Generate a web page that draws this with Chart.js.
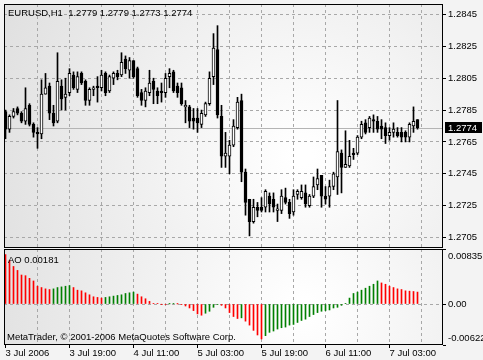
<!DOCTYPE html>
<html>
<head>
<meta charset="utf-8">
<title>EURUSD,H1</title>
<script src="https://cdn.jsdelivr.net/npm/chart.js@4.4.0/dist/chart.umd.min.js"></script>
<style>
  html, body { margin: 0; padding: 0; background: #f3f3f3; }
  #wrap { position: relative; width: 483px; height: 360px; overflow: hidden; }
  #priceChart { position: absolute; left: 0; top: 0; }
  #aoChart { position: absolute; left: 0; top: 249px; }
</style>
</head>
<body>
<div id="wrap">
  <canvas id="priceChart" width="483" height="248"></canvas>
  <canvas id="aoChart" width="483" height="111"></canvas>
</div>
<script>
// EURUSD H1, bar 0 = 3 Jul 2006 03:00
const opens = [1.2784, 1.2773, 1.2781, 1.2786, 1.2783, 1.2778, 1.2788, 1.2776, 1.2771, 1.2770,
  1.2795, 1.2800, 1.2783, 1.2778, 1.2800, 1.2793, 1.2796, 1.2807, 1.2798, 1.2808,
  1.2803, 1.2791, 1.2798, 1.2800, 1.2799, 1.2808, 1.2797, 1.2805, 1.2808, 1.2807,
  1.2817, 1.2810, 1.2816, 1.2811, 1.2796, 1.2791, 1.2796, 1.2803, 1.2797, 1.2797,
  1.2796, 1.2806, 1.2809, 1.2800, 1.2799, 1.2787, 1.2787, 1.2780, 1.2780, 1.2776,
  1.2782, 1.2789, 1.2806, 1.2823, 1.2781, 1.2756, 1.2756, 1.2763, 1.2774, 1.2791,
  1.2746, 1.2729, 1.2715, 1.2724, 1.2724, 1.2724, 1.2731, 1.2729, 1.2722, 1.2722,
  1.2730, 1.2727, 1.2721, 1.2732, 1.2730, 1.2733, 1.2725, 1.2731, 1.2738, 1.2744,
  1.2731, 1.2731, 1.2737, 1.2743, 1.2758, 1.2749, 1.2750, 1.2758, 1.2758, 1.2768,
  1.2777, 1.2774, 1.2779, 1.2778, 1.2775, 1.2774, 1.2769, 1.2771, 1.2771, 1.2771,
  1.2771, 1.2768, 1.2775, 1.2779];
const highs = [1.2785, 1.2782, 1.2786, 1.2787, 1.2784, 1.2799, 1.2789, 1.2777, 1.2774, 1.2804,
  1.2808, 1.2802, 1.2788, 1.2821, 1.2804, 1.2805, 1.2811, 1.2809, 1.2809, 1.2809,
  1.2804, 1.2799, 1.2800, 1.2806, 1.2810, 1.2809, 1.2807, 1.2809, 1.2810, 1.2821,
  1.2819, 1.2818, 1.2816, 1.2812, 1.2798, 1.2799, 1.2810, 1.2805, 1.2799, 1.2802,
  1.2808, 1.2811, 1.2810, 1.2802, 1.2802, 1.2791, 1.2788, 1.2786, 1.2786, 1.2785,
  1.2790, 1.2809, 1.2833, 1.2838, 1.2788, 1.2771, 1.2766, 1.2779, 1.2793, 1.2795,
  1.2748, 1.2729, 1.2729, 1.2727, 1.2730, 1.2735, 1.2733, 1.2733, 1.2726, 1.2735,
  1.2736, 1.2729, 1.2735, 1.2735, 1.2738, 1.2738, 1.2732, 1.2743, 1.2748, 1.2744,
  1.2737, 1.2741, 1.2746, 1.2791, 1.2760, 1.2772, 1.2766, 1.2761, 1.2769, 1.2778,
  1.2779, 1.2781, 1.2782, 1.2781, 1.2779, 1.2777, 1.2774, 1.2777, 1.2774, 1.2774,
  1.2772, 1.2777, 1.2787, 1.2779];
const lows = [1.2767, 1.2771, 1.2780, 1.2782, 1.2777, 1.2776, 1.2775, 1.2768, 1.2761, 1.2767,
  1.2795, 1.2779, 1.2775, 1.2777, 1.2785, 1.2785, 1.2794, 1.2798, 1.2796, 1.2801,
  1.2788, 1.2788, 1.2794, 1.2790, 1.2797, 1.2794, 1.2796, 1.2801, 1.2804, 1.2806,
  1.2808, 1.2805, 1.2805, 1.2793, 1.2788, 1.2787, 1.2794, 1.2789, 1.2789, 1.2790,
  1.2793, 1.2799, 1.2796, 1.2793, 1.2788, 1.2777, 1.2774, 1.2773, 1.2771, 1.2774,
  1.2781, 1.2788, 1.2801, 1.2780, 1.2749, 1.2749, 1.2745, 1.2762, 1.2773, 1.2740,
  1.2719, 1.2706, 1.2714, 1.2718, 1.2721, 1.2721, 1.2721, 1.2721, 1.2715, 1.2720,
  1.2726, 1.2717, 1.2719, 1.2729, 1.2729, 1.2724, 1.2724, 1.2730, 1.2735, 1.2724,
  1.2726, 1.2724, 1.2735, 1.2732, 1.2733, 1.2749, 1.2749, 1.2754, 1.2757, 1.2767,
  1.2770, 1.2771, 1.2771, 1.2771, 1.2767, 1.2764, 1.2766, 1.2768, 1.2768, 1.2765,
  1.2765, 1.2765, 1.2771, 1.2773];
const closes = [1.2773, 1.2781, 1.2784, 1.2783, 1.2778, 1.2786, 1.2776, 1.2771, 1.2770, 1.2795,
  1.2799, 1.2783, 1.2777, 1.2803, 1.2792, 1.2795, 1.2808, 1.2799, 1.2806, 1.2802,
  1.2791, 1.2798, 1.2799, 1.2799, 1.2807, 1.2796, 1.2806, 1.2808, 1.2806, 1.2815,
  1.2811, 1.2816, 1.2806, 1.2794, 1.2791, 1.2797, 1.2802, 1.2798, 1.2794, 1.2796,
  1.2805, 1.2808, 1.2797, 1.2796, 1.2789, 1.2788, 1.2778, 1.2778, 1.2777, 1.2783,
  1.2789, 1.2805, 1.2824, 1.2782, 1.2756, 1.2758, 1.2763, 1.2775, 1.2790, 1.2746,
  1.2727, 1.2715, 1.2724, 1.2722, 1.2722, 1.2734, 1.2726, 1.2724, 1.2723, 1.2731,
  1.2727, 1.2720, 1.2731, 1.2734, 1.2734, 1.2726, 1.2731, 1.2737, 1.2742, 1.2731,
  1.2729, 1.2737, 1.2745, 1.2759, 1.2749, 1.2751, 1.2756, 1.2757, 1.2768, 1.2776,
  1.2771, 1.2780, 1.2778, 1.2773, 1.2773, 1.2769, 1.2771, 1.2773, 1.2769, 1.2768,
  1.2768, 1.2776, 1.2778, 1.2774];

// Awesome Oscillator
const aoValues = [0.0075, 0.0066, 0.0057, 0.0051, 0.0044, 0.0043, 0.0039, 0.0035, 0.0027, 0.0025,
  0.0023, 0.0022, 0.0023, 0.0025, 0.0026, 0.0027, 0.0028, 0.0025, 0.0021, 0.0020,
  0.0017, 0.0014, 0.0011, 0.0010, 0.0009, 0.0010, 0.0011, 0.0012, 0.0013, 0.0014,
  0.0016, 0.0017, 0.0018, 0.0015, 0.0011, 0.0008, 0.0004, 0.0001, 0.00005, -0.00003,
  -0.00005, 0.00002, 0.00004, 0.00001, -0.00005, -0.0003, -0.0006, -0.0010, -0.0015, -0.0017,
  -0.0014, -0.0011, -0.0005, -0.0001, -0.0002, -0.0006, -0.0013, -0.0019, -0.0022, -0.0021,
  -0.0026, -0.0032, -0.0040, -0.0047, -0.0053, -0.0048, -0.0043, -0.0041, -0.0038, -0.0036,
  -0.0035, -0.0032, -0.0031, -0.0028, -0.0025, -0.0023, -0.0019, -0.0016, -0.0013, -0.0011,
  -0.0010, -0.0009, -0.0006, -0.0005, -0.0002, 0.0001, 0.0009, 0.0016, 0.0018, 0.0021,
  0.0024, 0.0027, 0.0030, 0.0035, 0.0032, 0.0030, 0.0027, 0.0025, 0.0023, 0.0022,
  0.0020, 0.00195, 0.0019, 0.00181];

const yTicks = [1.2705, 1.2725, 1.2745, 1.2765, 1.2785, 1.2805, 1.2825, 1.2845];
const aoTicks = [-0.00622, 0, 0.00835];
const gridHours = [0, 8, 16, 24, 32, 40, 48, 56, 64, 72, 80, 88, 96, 104];
const labelHours = [0, 16, 32, 48, 64, 80, 96];
const timeLabels = ['3 Jul 2006', '3 Jul 19:00', '4 Jul 11:00', '5 Jul 03:00', '5 Jul 19:00', '6 Jul 11:00', '7 Jul 03:00'];

const symbolTitle = 'EURUSD,H1';
const aoTitle = 'AO';
const copyright = 'MetaTrader, \u00a9 2001-2006 MetaQuotes Software Corp.';

const hours = opens.map((_, i) => i);
const lastBar = opens.length - 1;

const FONT = '"Liberation Sans", Arial, sans-serif';
const GRID = '#a8a8a8';

// fond degradé + cadre noir
const panelBg = {
    id: 'panelBg',
    beforeDraw(chart) {
        const { ctx, chartArea: a } = chart;
        const cx = a.left + a.width * 0.68, cy = a.top + a.height * 0.62;
        const g = ctx.createRadialGradient(cx, cy, 10, cx, cy, a.width * 0.75);
        g.addColorStop(0, '#ffffff');
        g.addColorStop(1, '#e0e0e0');
        ctx.save();
        ctx.fillStyle = g;
        ctx.fillRect(a.left, a.top, a.width, a.height);
        ctx.restore();
    },
    afterDraw(chart) {
        const { ctx, chartArea: a } = chart;
        ctx.save();
        ctx.strokeStyle = '#000';
        ctx.lineWidth = 1;
        ctx.strokeRect(a.left + 0.5, a.top + 0.5, a.width - 1, a.height - 1);
        ctx.restore();
    }
};

const priceOverlay = {
    id: 'priceOverlay',
    beforeDatasetsDraw(chart) {
        const { ctx, chartArea: a } = chart;
        const y = Math.round(chart.scales.y.getPixelForValue(closes[lastBar])) + 0.5;
        ctx.save();
        ctx.strokeStyle = '#b4b4b4';
        ctx.lineWidth = 1;
        ctx.beginPath();
        ctx.moveTo(a.left, y);
        ctx.lineTo(a.right, y);
        ctx.stroke();
        ctx.restore();
    },
    afterDraw(chart) {
        const { ctx, chartArea: a } = chart;
        const last = [opens, highs, lows, closes].map(s => s[lastBar].toFixed(4)).join(' ');
        ctx.save();
        ctx.font = '9.5px ' + FONT;
        ctx.textBaseline = 'middle';
        ctx.fillStyle = '#000';
        ctx.fillText(symbolTitle + '  ' + last, a.left + 4, 13);
        // étiquette du dernier prix
        const y = Math.round(chart.scales.y.getPixelForValue(closes[lastBar]));
        ctx.fillRect(445, y - 6, 37, 11);
        ctx.fillStyle = '#fff';
        ctx.fillText(closes[lastBar].toFixed(4), 448, y);
        ctx.restore();
    }
};

const aoOverlay = {
    id: 'aoOverlay',
    afterDraw(chart) {
        const { ctx, chartArea: a } = chart;
        ctx.save();
        ctx.font = '9.5px ' + FONT;
        ctx.textBaseline = 'middle';
        ctx.fillStyle = '#000';
        ctx.fillText(aoTitle + ' ' + aoValues[lastBar].toFixed(5), a.left + 4, a.top + 11);
        ctx.fillText(copyright, a.left + 3, a.bottom - 8);
        ctx.restore();
    }
};

// pas de marge auto autour des axes
const noPad = s => { s.paddingTop = 0; s.paddingBottom = 0; s.paddingLeft = 0; s.paddingRight = 0; };

const xScale = (showLabels) => ({
    type: 'linear',
    offset: false,
    min: -0.375,
    max: 109.375,
    afterBuildTicks: s => { s.ticks = gridHours.map(v => ({ value: v })); },
    afterFit: s => { s.height = showLabels ? 15 : 0; noPad(s); },
    ticks: {
        display: showLabels,
        autoSkip: false,
        maxRotation: 0,
        align: 'start',
        padding: 0,
        color: '#000',
        font: { family: FONT, size: 9.5 },
        callback: v => {
            const k = labelHours.indexOf(v);
            return k >= 0 ? timeLabels[k] : '';
        }
    },
    grid: {
        offset: false,
        color: c => (c.tick && c.tick.value === 0) ? 'rgba(0,0,0,0)' : GRID,
        drawTicks: showLabels,
        tickLength: 3,
        tickBorderDash: [],
        tickColor: c => (c.tick && labelHours.includes(c.tick.value)) ? '#000' : 'rgba(0,0,0,0)'
    },
    border: { display: false, dash: [3, 3] }
});

new Chart(document.getElementById('priceChart'), {
    type: 'bar',
    data: {
        datasets: [
            {
                label: 'corps',
                data: hours.map(h => ({ x: h, y: [opens[h], closes[h]] })),
                backgroundColor: hours.map(h => closes[h] >= opens[h] ? '#ffffff' : '#000000'),
                borderColor: '#000',
                borderWidth: 1,
                borderSkipped: false,
                barThickness: 3,
                grouped: false
            },
            {
                label: 'meches',
                data: hours.map(h => ({ x: h, y: [lows[h], highs[h]] })),
                backgroundColor: '#000',
                barThickness: 1,
                grouped: false
            }
        ]
    },
    options: {
        responsive: false,
        animation: false,
        layout: { padding: { left: 4, top: 4, right: 0, bottom: 0 } },
        plugins: { legend: { display: false }, tooltip: { enabled: false } },
        scales: {
            x: xScale(false),
            y: {
                position: 'right',
                min: 1.26984,
                max: 1.28516,
                afterBuildTicks: s => { s.ticks = yTicks.map(v => ({ value: v })); },
                afterFit: s => { s.width = 40; noPad(s); },
                ticks: {
                    padding: 2,
                    color: '#000',
                    font: { family: FONT, size: 9.5 },
                    callback: v => v.toFixed(4)
                },
                grid: { color: GRID, tickColor: '#000', tickLength: 3, tickBorderDash: [] },
                border: { display: false, dash: [3, 3] }
            }
        }
    },
    plugins: [panelBg, priceOverlay]
});

new Chart(document.getElementById('aoChart'), {
    type: 'bar',
    data: {
        datasets: [{
            label: 'AO',
            data: hours.map(h => ({ x: h, y: aoValues[h] })),
            backgroundColor: hours.map(h => (h > 0 && aoValues[h] > aoValues[h - 1]) ? '#008000' : '#ff0000'),
            barThickness: 1
        }]
    },
    options: {
        responsive: false,
        animation: false,
        layout: { padding: { left: 4, top: 0, right: 0, bottom: 0 } },
        plugins: { legend: { display: false }, tooltip: { enabled: false } },
        scales: {
            x: xScale(true),
            y: {
                position: 'right',
                min: aoTicks[0],
                max: aoTicks[2],
                afterBuildTicks: s => { s.ticks = aoTicks.map(v => ({ value: v })); },
                afterFit: s => { s.width = 40; noPad(s); },
                ticks: {
                    padding: 2,
                    color: '#000',
                    font: { family: FONT, size: 9.5, lineHeight: 1.45 },
                    callback: v => v > 0 ? ['', v.toFixed(5)] : v < 0 ? [v.toFixed(5), ''] : '0.00'
                },
                grid: {
                    color: c => (c.tick && c.tick.value === 0) ? GRID : 'rgba(0,0,0,0)',
                    tickColor: '#000',
                    tickLength: 3,
                    tickBorderDash: []
                },
                border: { display: false, dash: [3, 3] }
            }
        }
    },
    plugins: [panelBg, aoOverlay]
});
</script>
</body>
</html>
